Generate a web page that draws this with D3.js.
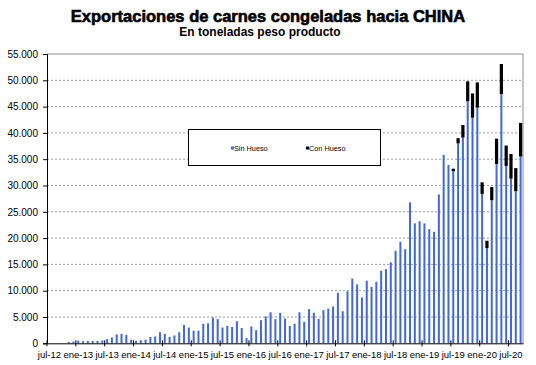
<!DOCTYPE html>
<html>
<head>
<meta charset="utf-8">
<script src="https://cdn.jsdelivr.net/npm/d3@7"></script>
<style>
  body { margin: 0; background: #fff; }
  text { font-family: "Liberation Sans", Arial, sans-serif; }
</style>
</head>
<body>
<script>
// meses: jul-12 ... sep-20
const meses = ["ene", "feb", "mar", "abr", "may", "jun", "jul", "ago", "sep", "oct", "nov", "dic"];
const categorias = [];
for (let k = 6; k < 6 + 99; k++) {
  categorias.push(meses[k % 12] + "-" + (12 + Math.floor(k / 12)));
}

// toneladas, sin hueso
const sinHueso = [
  0, 0, 0, 0, 250, 350, 500, 400, 450, 450, 450, 550,
  800, 1100, 1700, 1800, 1600, 700, 450, 600, 700, 1200, 1300, 2100,
  1800, 1200, 1500, 2100, 3500, 3000, 2400, 2400, 3700, 3800, 4900, 4600,
  3000, 3300, 3100, 4200, 2900, 1000, 3200, 2500, 4400, 5100, 5900, 4600,
  5800, 4700, 3300, 3700, 5900, 4100, 6500, 5800, 4600, 6300, 6600, 7000,
  9600, 6100, 9900, 12300, 11200, 8700, 11900, 10700, 11700, 13800, 14100, 15400,
  17600, 19300, 17900, 26800, 22800, 23200, 22800, 21700, 21200, 28300, 35800, 33900,
  32700, 38000, 39100, 46000, 42900, 44800, 28400, 18100, 27200, 34100, 47400, 33700,
  31300, 28900, 35500
];

// toneladas, con hueso
const conHueso = [
  0, 0, 0, 0, 0, 0, 0, 0, 0, 0, 0, 0,
  0, 0, 0, 0, 0, 0, 0, 0, 0, 0, 0, 0,
  0, 0, 0, 0, 0, 0, 0, 0, 0, 0, 0, 0,
  0, 0, 0, 0, 0, 0, 0, 0, 0, 0, 0, 0,
  0, 0, 0, 0, 0, 0, 0, 0, 0, 0, 0, 0,
  0, 0, 0, 0, 0, 0, 0, 0, 0, 0, 0, 0,
  0, 0, 0, 0, 0, 0, 0, 0, 0, 0, 0, 0,
  500, 1000, 2400, 3800, 4600, 4800, 2200, 1400, 2500, 4800, 5700, 3900,
  4700, 4400, 6400
];

const yTicks = [0, 5000, 10000, 15000, 20000, 25000, 30000, 35000, 40000, 45000, 50000, 55000];
const xTicks = categorias.filter((d, i) => i % 6 === 0);

const w = 536;
const h = 365;
const mLeft = 47, mRight = 523, mTop = 54, mBottom = 343.3;

const svg = d3.select("body").append("svg").attr("width", w).attr("height", h);

const x = d3.scaleBand().domain(categorias).range([mLeft, mRight]).paddingInner(0.58).paddingOuter(0.29);
const y = d3.scaleLinear().domain([0, 55000]).range([mBottom, mTop]);

const es = d3.formatLocale({ decimal: ",", thousands: ".", grouping: [3], currency: ["", ""] });
const fmt = es.format(",");

// titulos
svg.append("text")
  .attr("x", 268).attr("y", 22)
  .attr("text-anchor", "middle")
  .attr("font-size", "16.5px").attr("font-weight", "bold")
  .attr("stroke", "#000").attr("stroke-width", 0.6)
  .text("Exportaciones de carnes congeladas hacia CHINA");
svg.append("text")
  .attr("x", 260).attr("y", 36)
  .attr("text-anchor", "middle")
  .attr("font-size", "12px").attr("font-weight", "bold")
  .text("En toneladas peso producto");

// grilla
svg.append("g")
  .selectAll("line")
  .data(yTicks.slice(1, -1))
  .enter()
  .append("line")
  .attr("x1", mLeft).attr("x2", mRight)
  .attr("y1", (d) => y(d)).attr("y2", (d) => y(d))
  .attr("stroke", "#9a9a9a").attr("stroke-dasharray", "2,2");

// borde del area de grafico
svg.append("path")
  .attr("d", `M${mLeft},${mTop}H${mRight}V${mBottom}`)
  .attr("fill", "none").attr("stroke", "#8c8c8c");

// barras apiladas
const series = d3.stack().keys(["sin", "con"])(
  categorias.map((c, i) => ({ cat: c, sin: sinHueso[i], con: conHueso[i] }))
);
const colores = { sin: "#4469d6", con: "#000000" };
const extra = { sin: 0, con: 1.2 }; // el negro se ve algo mas ancho

svg.append("g")
  .selectAll("g")
  .data(series)
  .enter()
  .append("g")
  .attr("fill", (s) => colores[s.key])
  .each(function (s) {
    d3.select(this)
      .selectAll("rect")
      .data(s.filter((d) => d[1] > d[0]))
      .enter()
      .append("rect")
      .attr("x", (d) => x(d.data.cat) - extra[s.key] / 2)
      .attr("width", x.bandwidth() + extra[s.key])
      .attr("y", (d) => y(d[1]))
      .attr("height", (d) => y(d[0]) - y(d[1]));
  });

// eje Y
const gy = svg.append("g")
  .attr("transform", `translate(${mLeft},0)`)
  .call(d3.axisLeft(y).tickValues(yTicks).tickFormat(fmt).tickSize(4).tickPadding(5));
gy.select(".domain").attr("stroke", "#000");
gy.selectAll("text").attr("font-size", "10px").attr("font-family", "Liberation Sans, Arial, sans-serif");

// eje X
const gx = svg.append("g")
  .attr("transform", `translate(0,${mBottom})`)
  .call(d3.axisBottom(x).tickValues(xTicks).tickSizeOuter(0).tickSizeInner(0).tickPadding(8));
gx.select(".domain").attr("stroke", "#000");
gx.selectAll(".tick line")
  .attr("x1", -x.step() / 2).attr("x2", -x.step() / 2)
  .attr("y1", -3).attr("y2", 3)
  .attr("stroke", "#000");
gx.selectAll("text").attr("font-size", "9.5px").attr("font-family", "Liberation Sans, Arial, sans-serif");

// leyenda
const leg = svg.append("g");
leg.append("rect")
  .attr("x", 188.5).attr("y", 129.5).attr("width", 192).attr("height", 36)
  .attr("fill", "#fff").attr("stroke", "#000");
const items = [
  { label: "Sin Hueso", color: colores.sin, x: 231 },
  { label: "Con Hueso", color: colores.con, x: 306 }
];
leg.selectAll("rect.m")
  .data(items)
  .enter()
  .append("rect")
  .attr("class", "m")
  .attr("x", (d) => d.x).attr("y", 146.5)
  .attr("width", 3).attr("height", 3)
  .attr("fill", (d) => d.color);
leg.selectAll("text")
  .data(items)
  .enter()
  .append("text")
  .attr("x", (d) => d.x + 3).attr("y", 150.5)
  .attr("font-size", "7.3px")
  .text((d) => d.label);
</script>
</body>
</html>
